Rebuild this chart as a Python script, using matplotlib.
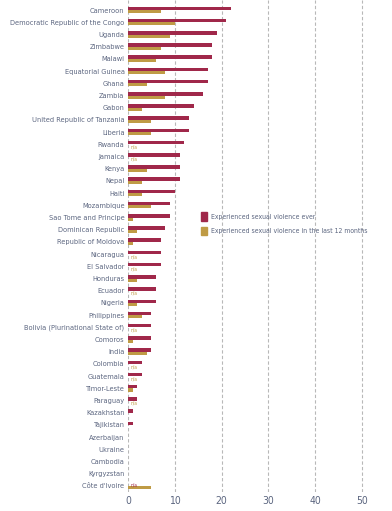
import numpy as np
import matplotlib
matplotlib.use("Agg")
import matplotlib.pyplot as plt
from matplotlib import font_manager

countries = [
    "Cameroon", "Democratic Republic of the Congo", "Uganda", "Zimbabwe", "Malawi",
    "Equatorial Guinea", "Ghana", "Zambia", "Gabon", "United Republic of Tanzania",
    "Liberia", "Rwanda", "Jamaica", "Kenya", "Nepal", "Haiti", "Mozambique",
    "Sao Tome and Principe", "Dominican Republic", "Republic of Moldova", "Nicaragua",
    "El Salvador", "Honduras", "Ecuador", "Nigeria", "Philippines",
    "Bolivia (Plurinational State of)", "Comoros", "India", "Colombia", "Guatemala",
    "Timor-Leste", "Paraguay", "Kazakhstan", "Tajikistan", "Azerbaijan", "Ukraine",
    "Cambodia", "Kyrgyzstan", "Côte d'Ivoire",
]
# None = n/a
ever = [22, 21, 19, 18, 18, 17, 17, 16, 14, 13,
        13, 12, 11, 11, 11, 10, 9, 9, 8, 7, 7,
        7, 6, 6, 6, 5, 5, 5, 5, 3, 3,
        2, 2, 1, 1, 0, 0, 0, 0, None]
last12 = [7, 10, 9, 7, 6, 8, 4, 8, 3, 5,
          5, None, None, 4, 3, 3, 5, 1, 2, 1, None,
          None, 2, None, 2, 3, None, 1, 4, None, None,
          1, None, 0, 0, 0, 0, 0, 0, 5]
ticks = [0, 10, 20, 30, 40, 50]
legend_labels = ["Experienced sexual violence ever",
                 "Experienced sexual violence in the last 12 months"]

RED = "#a0284a"
GOLD = "#bf9b45"
TEXT = "#5c6680"

# look for a narrow/condensed face, the original uses one
narrow = [f for f in font_manager.fontManager.ttflist
          if ("Narrow" in f.name or "Condensed" in f.name or "condensed" in str(f.stretch))
          and "Mono" not in f.name and f.style == "normal"]
if narrow:
    plt.rcParams["font.family"] = [narrow[0].name, "DejaVu Sans"]
    plt.rcParams["font.stretch"] = narrow[0].stretch
else:
    plt.rcParams["font.family"] = ["Liberation Sans", "DejaVu Sans"]

fig = plt.figure(figsize=(3.92, 5.11), dpi=100)
renderer = fig.canvas.get_renderer()


def fit_size(text, px, ref=10):
    # font size so that text spans about px pixels
    t = fig.text(0, 0, text, fontsize=ref)
    w = t.get_window_extent(renderer).width
    t.remove()
    return ref * px / w


LBL = min(fit_size("Democratic Republic of the Congo", 114), 7.5)
LEG = min(fit_size(legend_labels[1], 155), 7.5)
TCK = 7.5

n = len(countries)
ax = fig.add_axes([128 / 392, 19 / 511, 244 / 392, 492 / 511])

y = np.arange(n)
ev = np.array([v if v is not None else 0 for v in ever], dtype=float)
l12 = np.array([v if v is not None else 0 for v in last12], dtype=float)

ax.barh(y - 0.13, ev, height=0.29, color=RED, zorder=3)
ax.barh(y + 0.14, l12, height=0.25, color=GOLD, zorder=3)

for i in range(n):
    if ever[i] is None:
        ax.text(0.5, i - 0.1, "n/a", fontsize=3.5, color=RED, va="center", ha="left")
    if last12[i] is None:
        ax.text(0.5, i + 0.22, "n/a", fontsize=3.5, color=GOLD, va="center", ha="left")

for t in ticks:
    ax.axvline(t, color="#b8b8b8", linestyle=(0, (3, 2)), linewidth=0.8, zorder=1)

ax.set_xlim(0, 52.1)
ax.set_ylim(39.5, -0.82)
ax.set_yticks(y)
ax.set_yticklabels(countries, fontsize=LBL, color=TEXT)
ax.set_xticks(ticks)
ax.set_xticklabels([str(t) for t in ticks], fontsize=TCK, color=TEXT)
ax.tick_params(length=0, pad=3)
ax.tick_params(axis="y", pad=2.5)
for s in ax.spines.values():
    s.set_visible(False)

handles = [plt.Rectangle((0, 0), 1, 1, color=RED), plt.Rectangle((0, 0), 1, 1, color=GOLD)]
leg = ax.legend(handles, legend_labels, loc="upper left", bbox_to_anchor=(0.29, 0.574),
                frameon=False, fontsize=LEG, handlelength=0.75, handleheight=1.5,
                handletextpad=0.7, labelspacing=0.9, borderaxespad=0)
for t in leg.get_texts():
    t.set_color(TEXT)

fig.savefig("out.png", dpi=100)
